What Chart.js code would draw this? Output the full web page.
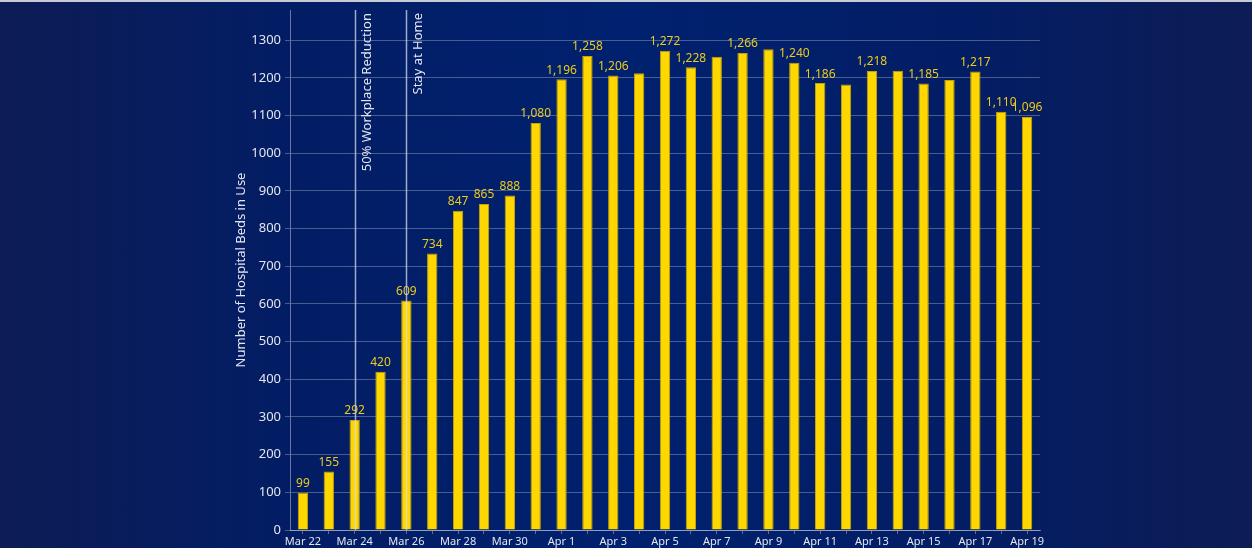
<!DOCTYPE html>
<html lang="en">
<head>
    <meta charset="UTF-8">
    <title>Hospital Beds in Use</title>
    <script src="https://cdn.jsdelivr.net/npm/chart.js"></script>
    <style>
        html, body { margin: 0; padding: 0; }
        body {
            width: 1252px; height: 548px; overflow: hidden;
            background: linear-gradient(to right, #0d1c54 0%, #031d64 22%, #00216f 50%, #031d64 78%, #0d1c54 100%);
            border-top: 2px solid #c8cbd6;
            box-sizing: border-box;
        }
        #wrap { position: relative; width: 1252px; height: 546px; }
    </style>
</head>
<body>
    <div id="wrap"><canvas id="beds"></canvas></div>
    <script>
        // data
        const days = ['Mar 22', 'Mar 23', 'Mar 24', 'Mar 25', 'Mar 26', 'Mar 27', 'Mar 28', 'Mar 29', 'Mar 30', 'Mar 31',
            'Apr 1', 'Apr 2', 'Apr 3', 'Apr 4', 'Apr 5', 'Apr 6', 'Apr 7', 'Apr 8', 'Apr 9', 'Apr 10',
            'Apr 11', 'Apr 12', 'Apr 13', 'Apr 14', 'Apr 15', 'Apr 16', 'Apr 17', 'Apr 18', 'Apr 19'];
        const bedsInUse = [99, 155, 292, 420, 609, 734, 847, 865, 888, 1080,
            1196, 1258, 1206, 1212, 1272, 1228, 1256, 1266, 1276, 1240,
            1186, 1182, 1218, 1219, 1185, 1194, 1217, 1110, 1096];
        // bars whose value is printed above them
        const labelled = [1, 1, 1, 1, 1, 1, 1, 1, 1, 1,
            1, 1, 1, 0, 1, 1, 0, 1, 0, 1,
            1, 0, 1, 0, 1, 0, 1, 1, 1];
        const events = [
            { day: 'Mar 24', text: '50% Workplace Reduction' },
            { day: 'Mar 26', text: 'Stay at Home' }
        ];
        const yTicks = [0, 100, 200, 300, 400, 500, 600, 700, 800, 900, 1000, 1100, 1200, 1300];

        const font = '"Noto Sans", "Open Sans", sans-serif';
        const textColor = '#e3e6ef';
        const gold = '#ffd700';

        const valueLabels = {
            id: 'valueLabels',
            afterDatasetsDraw(chart) {
                const ctx = chart.ctx;
                const meta = chart.getDatasetMeta(0);
                ctx.save();
                ctx.font = '12px ' + font;
                ctx.fillStyle = '#eccb1e';
                ctx.textAlign = 'center';
                ctx.textBaseline = 'bottom';
                meta.data.forEach((bar, i) => {
                    if (!labelled[i]) return;
                    ctx.fillText(bedsInUse[i].toLocaleString('en-US'), bar.x, bar.y - 3);
                });
                ctx.restore();
            }
        };

        const eventLines = {
            id: 'eventLines',
            afterDatasetsDraw(chart) {
                const ctx = chart.ctx;
                const x = chart.scales.x;
                const area = chart.chartArea;
                events.forEach(ev => {
                    const px = Math.round(x.getPixelForValue(days.indexOf(ev.day))) + 0.5;
                    ctx.save();
                    ctx.strokeStyle = 'rgba(215,220,235,0.75)';
                    ctx.lineWidth = 1.5;
                    ctx.beginPath();
                    ctx.moveTo(px, area.top);
                    ctx.lineTo(px, area.bottom);
                    ctx.stroke();
                    ctx.translate(px + 5, area.top + 3);
                    ctx.rotate(-Math.PI / 2);
                    ctx.font = '13px ' + font;
                    ctx.fillStyle = textColor;
                    ctx.textAlign = 'right';
                    ctx.textBaseline = 'top';
                    ctx.fillText(ev.text, 0, 0);
                    ctx.restore();
                });
            }
        };

        new Chart(document.getElementById('beds'), {
            type: 'bar',
            data: {
                labels: days,
                datasets: [{
                    data: bedsInUse,
                    backgroundColor: gold,
                    borderColor: '#c9a400',
                    borderWidth: 1,
                    barPercentage: 0.4,
                    categoryPercentage: 1
                }]
            },
            options: {
                responsive: true,
                maintainAspectRatio: false,
                animation: false,
                layout: { padding: { top: 8, right: 212, left: 233, bottom: 0 } },
                plugins: { legend: { display: false }, tooltip: { enabled: false } },
                scales: {
                    x: {
                        grid: { drawOnChartArea: false, offset: false, tickLength: 4, color: 'rgba(255,255,255,0.35)' },
                        border: { color: 'rgba(255,255,255,0.4)' },
                        ticks: {
                            autoSkip: false, maxRotation: 0, padding: 1,
                            color: textColor, font: { family: font, size: 11 },
                            callback: (v, i) => (i % 2 === 0 ? days[i] : '')
                        },
                        afterFit: s => { s.height = 18; }
                    },
                    y: {
                        min: 0, max: 1380,
                        afterBuildTicks: s => { s.ticks = yTicks.map(v => ({ value: v })); },
                        grid: { color: 'rgba(255,255,255,0.28)', tickLength: 5 },
                        border: { color: 'rgba(255,255,255,0.4)' },
                        ticks: {
                            color: textColor, padding: 4, font: { family: font, size: 13 },
                            callback: v => String(v)
                        },
                        title: {
                            display: true, text: 'Number of Hospital Beds in Use',
                            color: textColor, font: { family: font, size: 13 }, padding: 0
                        },
                        afterFit: s => { s.width = 57; s.paddingTop = 0; s.paddingBottom = 0; }
                    }
                }
            },
            plugins: [valueLabels, eventLines]
        });
    </script>
</body>
</html>
